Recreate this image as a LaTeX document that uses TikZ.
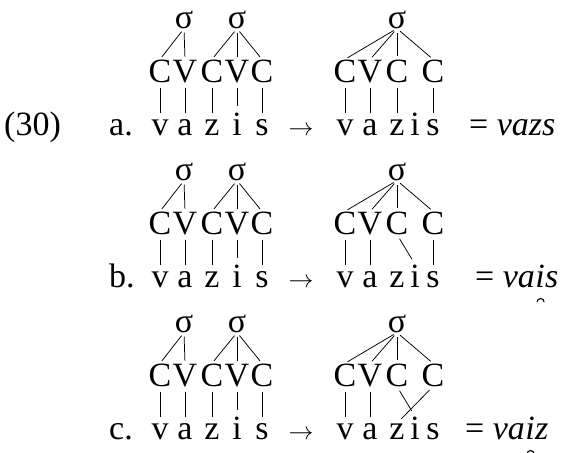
\documentclass[tikz,border=0pt]{standalone}
\usepackage{fontspec}
\setmainfont{Liberation Serif}
\usetikzlibrary{calc}
\newcommand\leftpart[2]{%
\begin{scope}[shift={(0,#2)}]
\node[seg] (#1s1) at (184,28) {σ};
\node[seg] (#1s2) at (237,28) {σ};
\node[seg] (#1C1) at (160,82) {C};
\node[seg] (#1V1) at (185,82) {V};
\node[seg] (#1C2) at (212,82) {C};
\node[seg] (#1V2) at (237,82) {V};
\node[seg] (#1C3) at (262,82) {C};
\node[seg] (#1t1) at (160,135) {v};
\node[seg] (#1t2) at (185,135) {a};
\node[seg] (#1t3) at (212,135) {z};
\node[seg] (#1t4) at (237,135) {i};
\node[seg] (#1t5) at (262,135) {s};
\node[seg] (#1arr) at (301,135) {$\rightarrow$};
\node[seg] (#1S) at (397,28) {σ};
\node[seg] (#1D1) at (345,82) {C};
\node[seg] (#1D2) at (370,82) {V};
\node[seg] (#1D3) at (397,82) {C};
\node[seg] (#1D4) at (433,82) {C};
\node[seg] (#1u1) at (345,135) {v};
\node[seg] (#1u2) at (370,135) {a};
\node[seg] (#1u3) at (397,135) {z};
\node[seg] (#1u4) at (415,135) {i};
\node[seg] (#1u5) at (433,135) {s};
\end{scope}
\draw[dl] (#1s1.south) -- (#1C1.north);
\draw[dl] (#1s1.south) -- (#1V1.north);
\draw[dl] (#1s2.south) -- (#1C2.north);
\draw[dl] (#1s2.south) -- (#1V2.north);
\draw[dl] (#1s2.south) -- (#1C3.north);
\draw[vl] (#1C1.south) -- (#1t1.north);
\draw[vl] (#1V1.south) -- (#1t2.north);
\draw[vl] (#1C2.south) -- (#1t3.north);
\draw[vl] (#1V2.south) -- (#1t4.north);
\draw[vl] (#1C3.south) -- (#1t5.north);
\draw[dl] (#1S.south) -- (#1D1.north);
\draw[dl] (#1S.south) -- (#1D2.north);
\draw[dl] (#1S.south) -- (#1D3.north);
\draw[dl] (#1S.south) -- (#1D4.north);
\draw[vl] (#1D1.south) -- (#1u1.north);
\draw[vl] (#1D2.south) -- (#1u2.north);
}
\begin{document}
\begin{tikzpicture}[x=1pt,y=-1pt,
  seg/.style={font=\fontsize{34}{41}\selectfont, inner sep=0pt, anchor=base},
  lab/.style={seg, anchor=base west},
  ln/.style={line width=0.75pt},
  vl/.style={ln, shorten <=5pt, shorten >=6pt},
  dl/.style={ln, shorten <=4pt, shorten >=3pt},
  brv/.style={line width=1.1pt}]
\useasboundingbox (0,0) rectangle (579,453);
\node[lab] (num) at (4,135) {(30)};
% row a
\leftpart{a}{0}
\node[lab] (alab) at (109,135) {a.};
\node[lab] (ares) at (469,135) {= \textit{vazs}};
\draw[vl] (aD3.south) -- (au3.north);
\draw[vl] (aD4.south) -- (au5.north);
% row b
\leftpart{b}{152}
\node[lab] (blab) at (109,287) {b.};
\node[lab] (bres) at (475,287) {= \textit{va}};
\node[lab] (bri) at (bres.base east) {\textit{i}};
\node[lab] (brs) at (bri.base east) {\textit{s}};
\draw[brv] ($(bri.base)+(-3,15)$) arc[start angle=180, end angle=0, radius=3.5pt];
\draw[vl] (bD3.south) -- (bu4.north);
\draw[vl] (bD4.south) -- (bu5.north);
% row c
\leftpart{c}{304}
\node[lab] (clab) at (109,439) {c.};
\node[lab] (cres) at (465,439) {= \textit{va}};
\node[lab] (cri) at (cres.base east) {\textit{i}};
\node[lab] (crz) at (cri.base east) {\textit{z}};
\draw[brv] ($(cri.base)+(-3,15)$) arc[start angle=180, end angle=0, radius=3.5pt];
\draw[vl] (cD3.south) -- (cu4.north);
\draw[vl] (cD4.south) -- (cu3.north);
\end{tikzpicture}
\end{document}
